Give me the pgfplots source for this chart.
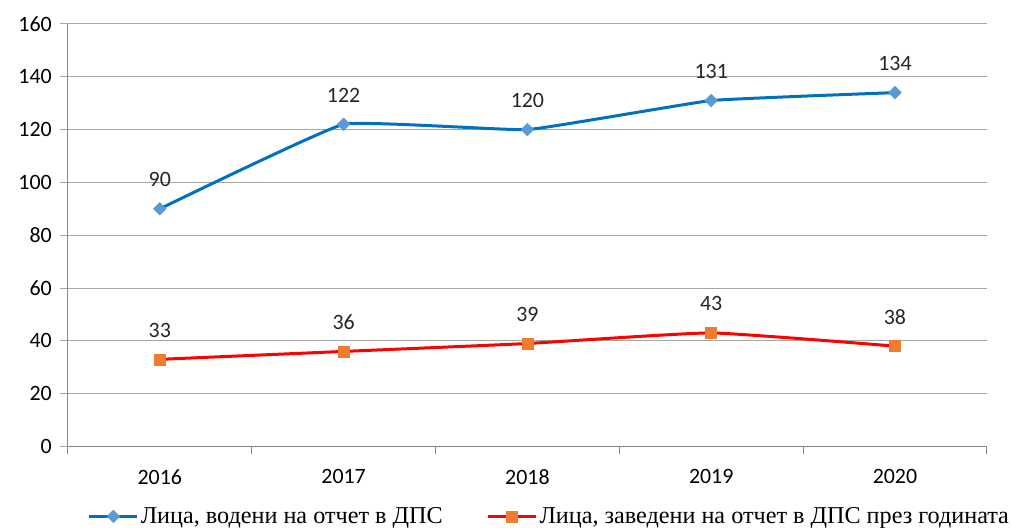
\documentclass[border=0pt]{standalone}
\usepackage{fontspec}
\setmainfont{Liberation Serif}
\newfontfamily\carlito{Carlito}
\usepackage{pgfplots}
\pgfplotsset{compat=1.18}
\definecolor{blueline}{HTML}{0070C0}
\definecolor{bluemark}{HTML}{5B9BD5}
\definecolor{redline}{HTML}{FF0000}
\definecolor{orangemark}{HTML}{ED7D31}
\definecolor{gridc}{HTML}{A6A6A6}
\definecolor{axisc}{HTML}{868686}
\begin{document}
\begin{tikzpicture}
\path (0,0) rectangle (1011bp,528bp);
\begin{axis}[
  at={(68bp,81bp)}, anchor=south west,
  scale only axis, width=920bp, height=423bp,
  xmin=-0.5, xmax=4.5, ymin=0, ymax=160,
  ytick={0,20,...,160},
  xtick={0,1,2,3,4},
  xticklabels={2016,2017,2018,2019,2020},
  minor xtick={-0.5,0.5,1.5,2.5,3.5,4.5},
  axis lines*=left,
  axis line style={axisc, line width=1bp, -},
  tick align=outside,
  major tick length=8bp, minor tick length=8bp,
  x tick style={draw=none},
  minor x tick style={draw=axisc, line width=1bp},
  y tick style={draw=gridc, line width=1bp},
  ymajorgrids, grid style={gridc, line width=1bp},
  /pgf/number format/assume math mode=true,
  ticklabel style={font=\carlito\fontsize{22}{26}\selectfont, text=black},
  yticklabel style={anchor=east, inner sep=0pt, xshift=-8bp},
  xticklabel style={anchor=north, inner sep=0pt, yshift=-15bp},
  nodes near coords,
  every node near coord/.append style={font=\carlito\fontsize{22}{26}\selectfont, text=black!85, anchor=base, yshift=22bp, inner sep=0pt},
  legend columns=2,
  legend style={at={(0.524,0)}, anchor=center, yshift=-70bp, draw=none, font=\fontsize{24.3}{28}\selectfont, inner sep=0pt},
  /tikz/every even column/.append style={column sep=42bp},
  legend image code/.code={\draw[mark repeat=2,mark phase=2,#1] plot coordinates {(0bp,0bp) (24bp,0bp) (48bp,0bp)};},
  clip=false,
]
\addplot[blueline, line width=3bp, smooth, tension=0.18, mark=square*, mark options={fill=bluemark, draw=bluemark, rotate=45, line width=0.5bp}, mark size=4.5bp]
  coordinates {(0,90) (1,122) (2,120) (3,131) (4,134)};
\addlegendentry{Лица, водени на отчет в ДПС}
\addplot[redline, line width=3bp, smooth, tension=0.25, mark=square*, mark options={fill=orangemark, draw=orangemark, line width=0.5bp}, mark size=5.5bp]
  coordinates {(0,33) (1,36) (2,39) (3,43) (4,38)};
\addlegendentry{Лица, заведени на отчет в ДПС през годината}
\end{axis}
\end{tikzpicture}
\end{document}
